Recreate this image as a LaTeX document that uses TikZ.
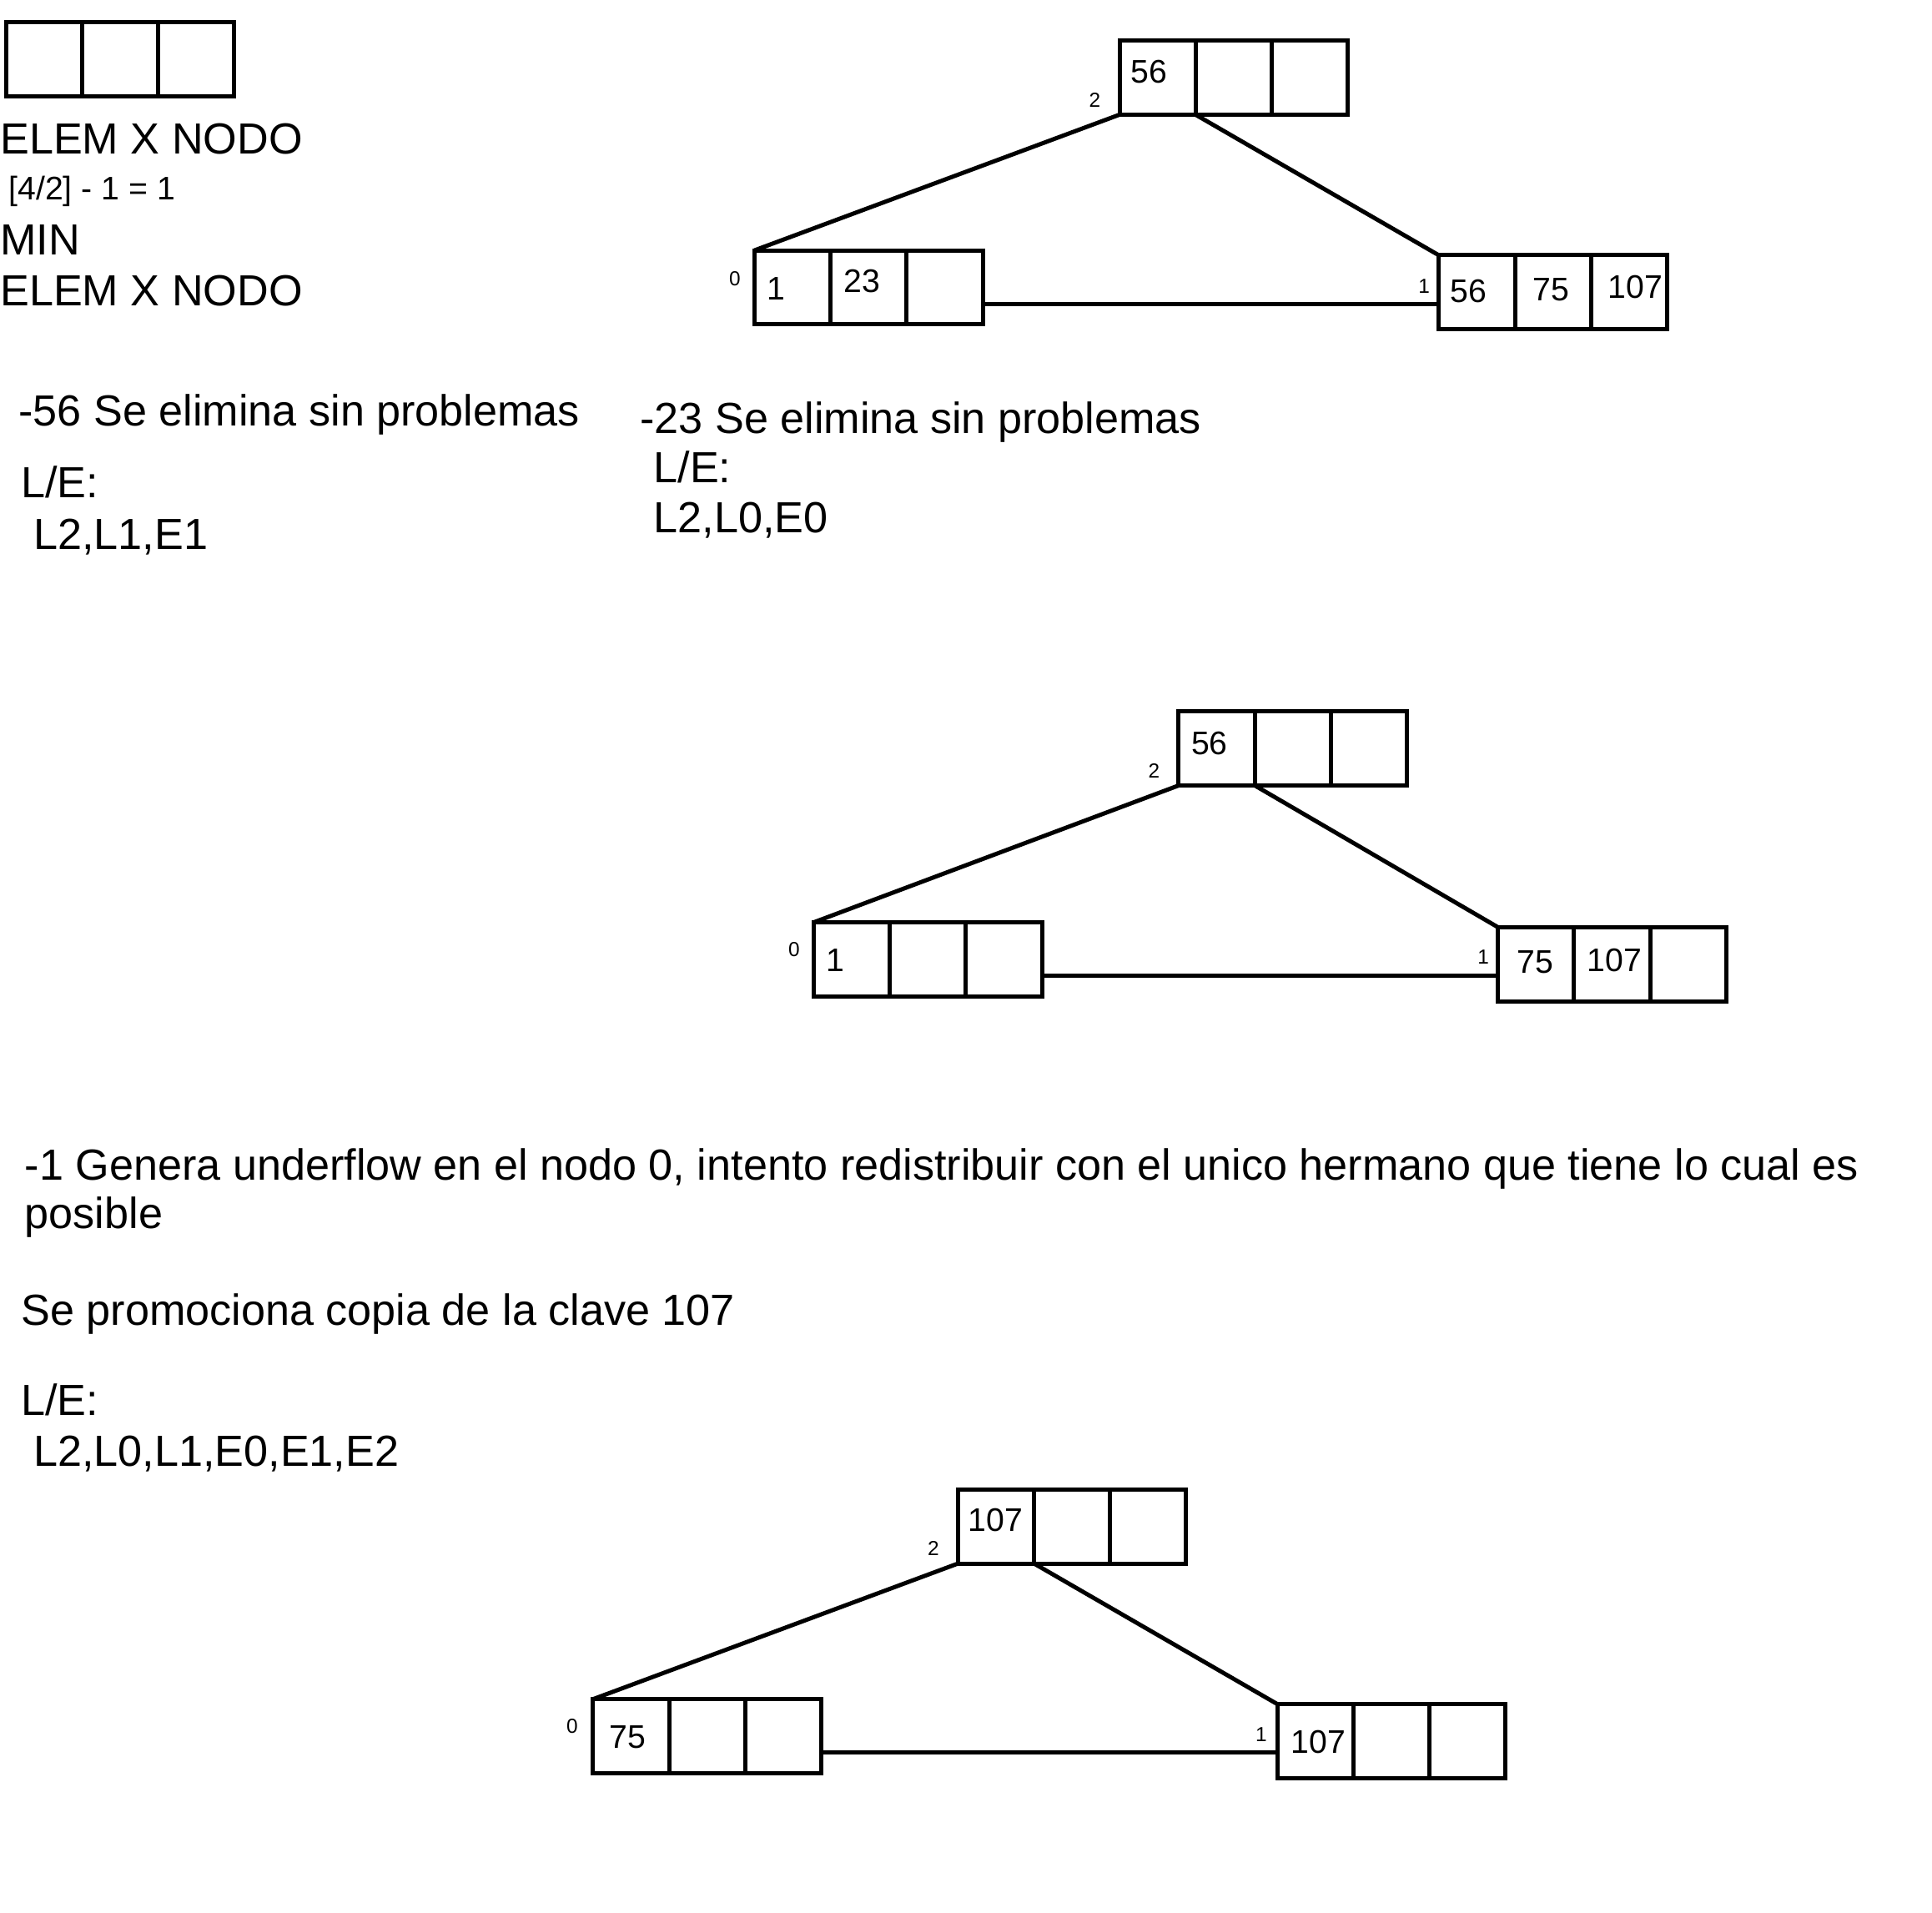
\documentclass[tikz,border=0pt]{standalone}
\usepackage{fontspec}
\setmainfont{Liberation Sans}
\tikzset{
  cell/.style={draw, line width=3.4pt, minimum width=61.7pt, minimum height=60pt, inner sep=0pt, outer sep=0pt},
  edge/.style={line width=3.4pt},
  big/.style={anchor=base west, inner sep=0pt, font=\fontsize{35.3}{42}\selectfont},
  mid/.style={anchor=base west, inner sep=0pt, font=\fontsize{26.5}{30}\selectfont},
  num/.style={anchor=base west, inner sep=0pt, font=\fontsize{26.5}{30}\selectfont},
  lbl/.style={anchor=center, inner sep=0pt, font=\fontsize{16.5}{19}\selectfont}
}
\newcommand\cellbox[3]{%
  \node[cell, anchor=north west] (#1a) at (#2,#3) {};
  \node[cell, anchor=west] (#1b) at (#1a.east) {};
  \node[cell, anchor=west] (#1c) at (#1b.east) {};
}
\begin{document}
\begin{tikzpicture}[x=1pt,y=-1pt]
\useasboundingbox[fill=white] (0,0) rectangle (1567,1550.8);

% legend box and header text
\cellbox{K}{5}{18}
\node[big] (h1) at (0,125) {ELEM X NODO};
\node[mid] (h2) at (7,162) {[4/2] - 1 = 1};
\node[big] (h3) at (0,207) {MIN};
\node[big] (h4) at (0,248) {ELEM X NODO};

% tree 1
\cellbox{PR}{908}{33}
\cellbox{PL}{612}{203}
\cellbox{PA}{1167}{207}
\draw[edge] (PRa.south west) -- (PLa.north west);
\draw[edge] (PRa.south east) -- (PAa.north west);
\draw[edge] ([yshift=16.5pt]PLc.south east) -- ([yshift=16.5pt]PLc.south east -| PAa.west);
\node[num] (p1) at (917,67) {56};
\node[num] (p2) at (622,243) {1};
\node[num] (p3) at (684,237) {23};
\node[num] (p4) at (1176,245) {56};
\node[num] (p5) at (1243,244) {75};
\node[num] (p6) at (1304,242) {107};
\node[lbl] (pl2) at (888,81) {2};
\node[lbl] (pl0) at (596,226) {0};
\node[lbl] (pl1) at (1155,232) {1};

% texts after tree 1
\node[big] (a1) at (15,345.5) {-56 Se elimina sin problemas};
\node[big] (a2) at (17,403.5) {L/E:};
\node[big] (a3) at (27,445.5) {L2,L1,E1};
\node[big] (b1) at (519,351.5) {-23 Se elimina sin problemas};
\node[big] (b2) at (530,391.5) {L/E:};
\node[big] (b3) at (530,432) {L2,L0,E0};

% tree 2
\cellbox{QR}{956}{577}
\cellbox{QL}{660}{748}
\cellbox{QA}{1215}{752}
\draw[edge] (QRa.south west) -- (QLa.north west);
\draw[edge] (QRa.south east) -- (QAa.north west);
\draw[edge] ([yshift=16.5pt]QLc.south east) -- ([yshift=16.5pt]QLc.south east -| QAa.west);
\node[num] (q1) at (966,612) {56};
\node[num] (q2) at (670,788) {1};
\node[num] (q3) at (1230,789) {75};
\node[num] (q4) at (1287,788) {107};
\node[lbl] (ql2) at (936,625) {2};
\node[lbl] (ql0) at (644,770) {0};
\node[lbl] (ql1) at (1203,776) {1};

% texts after tree 2
\node[big] (c1) at (20,957) {-1 Genera underflow en el nodo 0, intento redistribuir con el unico hermano que tiene lo cual es};
\node[big] (c2) at (20,996.5) {posible};
\node[big] (c3) at (17,1075) {Se promociona copia de la clave 107};
\node[big] (c4) at (17,1148) {L/E:};
\node[big] (c5) at (27,1189) {L2,L0,L1,E0,E1,E2};

% tree 3
\cellbox{SR}{777}{1208}
\cellbox{SL}{481}{1378}
\cellbox{SA}{1036}{1382}
\draw[edge] (SRa.south west) -- (SLa.north west);
\draw[edge] (SRa.south east) -- (SAa.north west);
\draw[edge] ([yshift=17pt]SLc.south east) -- ([yshift=17pt]SLc.south east -| SAa.west);
\node[num] (s1) at (785,1242) {107};
\node[num] (s2) at (494,1418) {75};
\node[num] (s3) at (1047,1422) {107};
\node[lbl] (sl2) at (757,1256) {2};
\node[lbl] (sl0) at (464,1400) {0};
\node[lbl] (sl1) at (1023,1407) {1};
\end{tikzpicture}
\end{document}
